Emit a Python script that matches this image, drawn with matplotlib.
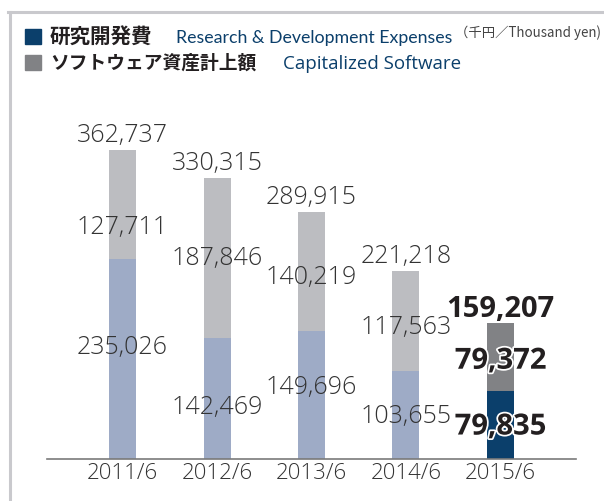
import matplotlib.pyplot as plt
import matplotlib.patheffects as pe
from matplotlib.lines import Line2D
from matplotlib.patches import Rectangle

# data (thousand yen)
periods = ['2011/6', '2012/6', '2013/6', '2014/6', '2015/6']
rd_expenses = [235026, 142469, 149696, 103655, 79835]
capitalized_sw = [127711, 187846, 140219, 117563, 79372]
totals = [362737, 330315, 289915, 221218, 159207]

# style
rd_colors = ['#9eabc6', '#9eabc6', '#9eabc6', '#9eabc6', '#0b3f6b']
sw_colors = ['#bcbdc1', '#bcbdc1', '#bcbdc1', '#bcbdc1', '#818285']
# where the inner labels sit inside each segment (fraction of segment)
rd_lab_frac = [0.56, 0.43, 0.57, 0.49, 0.47]
sw_lab_frac = [0.30, 0.50, 0.46, 0.44, 0.44]
txt_color = '#333333'
navy = '#0b3f6b'
num_font = 'Open Sans'

W, H = 604, 502
fig = plt.figure(figsize=(W / 100, H / 100), dpi=100)
ax = fig.add_axes([47 / W, 42 / H, 529 / W, 360 / H])

x = range(len(periods))
bw = 0.286
ax.bar(x, rd_expenses, bw, color=rd_colors)
ax.bar(x, capitalized_sw, bw, bottom=rd_expenses, color=sw_colors)

ax.set_xlim(-0.8, 4.8)
ax.set_ylim(0, 422500)
for s in ['top', 'right', 'left']:
    ax.spines[s].set_visible(False)
ax.spines['bottom'].set_color('#7a7a7a')
ax.spines['bottom'].set_linewidth(1.2)
ax.set_yticks([])
ax.set_xticks(list(x))
ax.set_xticklabels(periods, fontfamily=num_font, fontweight='light',
                   fontsize=16, color=txt_color)
ax.tick_params(axis='x', length=0, pad=2.5)

fmt = lambda v: f'{v:,}'
outline = [pe.withStroke(linewidth=2.5, foreground='white')]
for i in x:
    last = i == len(periods) - 1
    kw = dict(ha='center', va='center', color=txt_color, fontfamily=num_font)
    if last:
        kw.update(fontsize=21, fontweight='bold', color='#231f20')
    else:
        kw.update(fontsize=18, fontweight='light')
    r, s = rd_expenses[i], capitalized_sw[i]
    ax.annotate(fmt(totals[i]), (i, totals[i]), xytext=(0, 11),
                textcoords='offset points', **kw)
    pk = kw.copy()
    if last:
        pk['path_effects'] = outline
    ax.text(i, r + s * sw_lab_frac[i], fmt(s), **pk)
    ax.text(i, r * rd_lab_frac[i], fmt(r), **pk)

# frame
fig.add_artist(Line2D([8 / W, 1], [1 - 13 / H] * 2, color='#c9c9cd', lw=2.2))
fig.add_artist(Line2D([9.5 / W] * 2, [0, 1 - 13 / H], color='#c9c9cd', lw=2.2))

# legend
jp = ['Noto Sans CJK JP', 'DejaVu Sans']
fig.add_artist(Rectangle((25 / W, 1 - 45 / H), 16 / W, 15 / H,
                         color=navy, transform=fig.transFigure))
fig.add_artist(Rectangle((25 / W, 1 - 71 / H), 16 / W, 15 / H,
                         color='#818285', transform=fig.transFigure))
fig.text(50 / W, 1 - 37 / H, '研究開発費', family=jp, fontweight='bold',
         fontsize=14.8, color='#231f20', va='center')
fig.text(176 / W, 1 - 38 / H, 'Research & Development Expenses',
         fontfamily='Lato', fontsize=12.8, color=navy, va='center')
fig.text(455 / W, 1 - 33 / H, '（千円／Thousand yen)', family=jp,
         fontsize=9.6, color='#444444', va='center')
fig.text(50 / W, 1 - 63 / H, 'ソフトウェア資産計上額', family=jp,
         fontweight='bold', fontsize=13.5, color='#231f20', va='center')
fig.text(283 / W, 1 - 64 / H, 'Capitalized Software',
         fontfamily='Open Sans', fontsize=13.5, color=navy, va='center')

fig.savefig('out.png', dpi=100)
